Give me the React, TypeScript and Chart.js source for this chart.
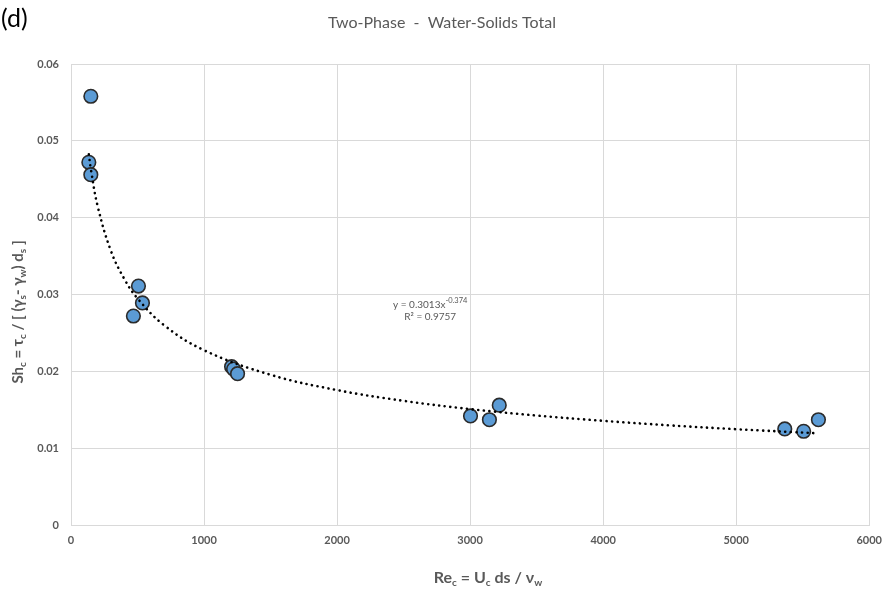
import React, { useEffect, useRef } from "react";
import { Chart, registerables } from "chart.js";

Chart.register(...registerables);

const reValues = [149, 134, 149, 507, 537, 469, 1207, 1222, 1252, 3003, 3145, 3219, 5365, 5507, 5618];
const shValues = [0.0558, 0.0472, 0.0456, 0.0311, 0.0289, 0.0272, 0.0206, 0.0203, 0.0197, 0.0142, 0.0137, 0.0156, 0.0125, 0.0122, 0.0137];

const trendX = [134, 150, 200, 300, 400, 500, 700, 1000, 1500, 2000, 2500, 3000, 3500, 4000, 4500, 5000, 5618];
const trendY = [0.04824, 0.04625, 0.04152, 0.03568, 0.03205, 0.02949, 0.026, 0.02275, 0.01955, 0.01756, 0.01616, 0.01509, 0.01425, 0.01356, 0.01297, 0.01247, 0.01193];

const titleText = "Two-Phase  -  Water-Solids Total";
const panelLabel = "(d)";
const equationLines = ["y = 0.3013x", "-0.374", "R² = 0.9757"];

const FONT = "Lato, 'Open Sans', sans-serif";
const GRAY = "#595959";

type Seg = { t: string; sub?: boolean; sup?: boolean };

const yTitle: Seg[] = [
  { t: "Sh" }, { t: "c", sub: true }, { t: " = τ" }, { t: "c", sub: true },
  { t: " / [ (γ" }, { t: "s", sub: true }, { t: "- γ" }, { t: "w", sub: true },
  { t: ") d" }, { t: "s", sub: true }, { t: " ]" },
];
const xTitle: Seg[] = [
  { t: "Re" }, { t: "c", sub: true }, { t: " = U" }, { t: "c", sub: true },
  { t: " ds / ν" }, { t: "w", sub: true },
];

function drawSegs(ctx: CanvasRenderingContext2D, segs: Seg[], size: number, cx: number, cy: number) {
  const big = `bold ${size}px ${FONT}`;
  const small = `bold ${Math.round(size * 0.65)}px ${FONT}`;
  let total = 0;
  for (const s of segs) {
    ctx.font = s.sub || s.sup ? small : big;
    total += ctx.measureText(s.t).width;
  }
  let x = cx - total / 2;
  ctx.textBaseline = "middle";
  ctx.textAlign = "left";
  for (const s of segs) {
    ctx.font = s.sub || s.sup ? small : big;
    const dy = s.sub ? size * 0.3 : s.sup ? -size * 0.35 : 0;
    ctx.fillText(s.t, x, cy + dy);
    x += ctx.measureText(s.t).width;
  }
}

const textPlugin = {
  id: "textPlugin",
  afterDraw(chart: any) {
    const ctx: CanvasRenderingContext2D = chart.ctx;
    const xs = chart.scales.x;
    const ys = chart.scales.y;
    ctx.save();
    ctx.fillStyle = "#000";
    ctx.font = `25px ${FONT}`;
    ctx.textAlign = "left";
    ctx.textBaseline = "middle";
    ctx.fillText(panelLabel, 1, 19);

    ctx.fillStyle = GRAY;
    ctx.font = `16px ${FONT}`;
    ctx.textAlign = "center";
    ctx.fillText(titleText, 442, 23);

    drawSegs(ctx, xTitle, 16, 488, 578);

    ctx.save();
    ctx.translate(18, 312);
    ctx.rotate(-Math.PI / 2);
    drawSegs(ctx, yTitle, 15, 0, 0);
    ctx.restore();

    // trendline equation
    const ex = xs.getPixelForValue(2700);
    const ey = ys.getPixelForValue(0.03);
    ctx.font = `10px ${FONT}`;
    ctx.textBaseline = "middle";
    ctx.textAlign = "left";
    const w1 = ctx.measureText(equationLines[0]).width;
    ctx.font = `7.5px ${FONT}`;
    const w2 = ctx.measureText(equationLines[1]).width;
    const startX = ex - (w1 + w2) / 2;
    ctx.font = `10px ${FONT}`;
    ctx.fillText(equationLines[0], startX, ey + 10);
    ctx.font = `7.5px ${FONT}`;
    ctx.fillText(equationLines[1], startX + w1, ey + 6.5);
    ctx.font = `10px ${FONT}`;
    ctx.textAlign = "center";
    ctx.fillText(equationLines[2], ex, ey + 22);
    ctx.restore();
  },
};

export default function App() {
  const ref = useRef<HTMLCanvasElement | null>(null);
  useEffect(() => {
    if (!ref.current) return;
    const chart = new Chart(ref.current, {
      type: "scatter",
      data: {
        datasets: [
          {
            label: "Trend",
            data: trendX.map((x, i) => ({ x, y: trendY[i] })),
            showLine: true,
            borderColor: "#000",
            borderWidth: 2.6,
            borderDash: [0.1, 5.5],
            borderCapStyle: "round",
            pointRadius: 0,
            tension: 0.4,
            fill: false,
            order: 0,
          } as any,
          {
            label: "Data",
            data: reValues.map((x, i) => ({ x, y: shValues[i] })),
            backgroundColor: "#5B9BD5",
            borderColor: "#2B2B2B",
            borderWidth: 1.6,
            pointRadius: 6.8,
            order: 1,
          },
        ],
      },
      options: {
        animation: false,
        responsive: false,
        maintainAspectRatio: false,
        layout: { padding: { left: 0, top: 64, right: 15, bottom: 0 } },
        plugins: { legend: { display: false }, tooltip: { enabled: false }, title: { display: false } },
        scales: {
          x: {
            type: "linear",
            min: 0,
            max: 6000,
            afterFit: (s: any) => { s.height = 66; },
            grid: { color: "#D9D9D9", drawTicks: false },
            border: { color: "#D9D9D9" },
            ticks: {
              stepSize: 1000,
              padding: 9,
              color: GRAY,
              font: { family: FONT, size: 11, weight: "bold" },
              callback: (v: any) => String(v),
            },
          },
          y: {
            type: "linear",
            min: 0,
            max: 0.06,
            afterFit: (s: any) => { s.width = 71; },
            grid: { color: "#D9D9D9", drawTicks: false },
            border: { color: "#D9D9D9" },
            ticks: {
              stepSize: 0.01,
              padding: 12,
              color: GRAY,
              font: { family: FONT, size: 11, weight: "bold" },
              callback: (v: any) => (v === 0 ? "0" : Number(v).toFixed(2)),
            },
          },
        },
      } as any,
      plugins: [textPlugin],
    });
    return () => chart.destroy();
  }, []);
  return (
    <div style={{ position: "absolute", left: 0, top: 0, width: 891, height: 591, background: "#fff" }}>
      <canvas ref={ref} width={891} height={591} style={{ width: 891, height: 591 }} />
    </div>
  );
}
